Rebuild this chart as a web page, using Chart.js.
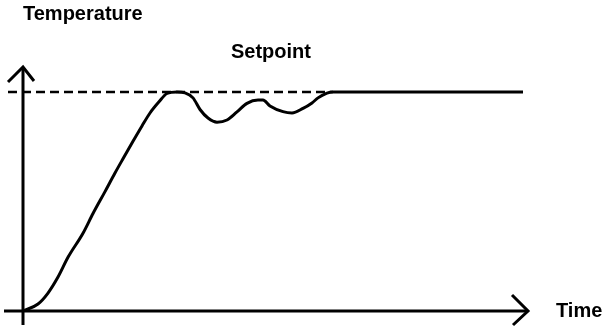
<!DOCTYPE html>
<html>
<head>
<meta charset="utf-8">
<script src="https://cdn.jsdelivr.net/npm/chart.js@4"></script>
<style>
    html, body { margin: 0; padding: 0; background: #fff; }
    canvas { display: block; }
</style>
</head>
<body>
<canvas id="myChart" width="605" height="330"></canvas>
<script>
//Step response: time and temperature samples
const time = [0, 3, 5, 7, 9, 12, 14, 16.4, 18.4, 20, 22, 23.8, 25.4, 27.2, 28.8, 30.8, 32.4, 34, 35.4, 37, 38.8, 40.8, 42.8, 44.8, 47, 48, 49.4, 52, 53.8, 56, 57.8, 59, 60.8, 62, 100];
const temperature = [0, 3.2, 8.2, 15.5, 24.5, 35.5, 44.5, 54.5, 63, 69.5, 77.5, 84.5, 90.4, 95.5, 99.3, 100, 99.6, 97.3, 92, 88.1, 86.2, 87.2, 90.9, 94.8, 96.3, 96.3, 93.6, 91, 90.4, 92.5, 95, 97.3, 99.5, 100, 100];

//Setpoint level and where the dashed line runs
const setpoint = 100;
const setpointTime = [-3, 62];

const labels = ['Temperature', 'Setpoint', 'Time'];

//Axes with arrow heads, crossing at the origin
const arrowAxes = {
    id: 'arrowAxes',
    beforeDatasetsDraw(chart) {
        const ctx = chart.ctx;
        const x = chart.scales.x;
        const y = chart.scales.y;
        const x0 = x.getPixelForValue(0);
        const y0 = y.getPixelForValue(0);
        ctx.save();
        ctx.strokeStyle = '#000';
        ctx.lineWidth = 3;
        ctx.lineCap = 'butt';
        ctx.beginPath();
        ctx.moveTo(x.left, y0);
        ctx.lineTo(x.right, y0);
        ctx.moveTo(x0, y.bottom);
        ctx.lineTo(x0, y.top);
        ctx.stroke();
        //arrow heads
        ctx.beginPath();
        ctx.moveTo(x0 - 15, y.top + 15);
        ctx.lineTo(x0, y.top);
        ctx.lineTo(x0 + 11, y.top + 14);
        ctx.moveTo(x.right - 16, y0 - 16);
        ctx.lineTo(x.right, y0);
        ctx.lineTo(x.right - 15, y0 + 14);
        ctx.stroke();
        ctx.restore();
    },
    afterDraw(chart) {
        const ctx = chart.ctx;
        const x = chart.scales.x;
        const y = chart.scales.y;
        ctx.save();
        ctx.fillStyle = '#000';
        ctx.font = 'bold 20px "Liberation Sans", Arial, sans-serif';
        ctx.textBaseline = 'alphabetic';
        ctx.textAlign = 'left';
        ctx.fillText(labels[0], x.getPixelForValue(0), 20);
        ctx.fillText(labels[1], 231, y.getPixelForValue(setpoint) - 34);
        ctx.fillText(labels[2], x.right + 28, y.getPixelForValue(0) + 6);
        ctx.restore();
    }
};

new Chart(document.getElementById('myChart'), {
    type: 'line',
    data: {
        datasets: [{
            label: 'Temperatur',
            data: time.map((t, i) => ({x: t, y: temperature[i]})),
            borderColor: '#000',
            borderWidth: 3,
            cubicInterpolationMode: 'monotone',
            pointRadius: 0,
            fill: false,
            order: 0
        }, {
            label: 'Setpoint',
            data: setpointTime.map(t => ({x: t, y: setpoint})),
            borderColor: '#000',
            borderWidth: 2.5,
            borderDash: [9, 5],
            pointRadius: 0,
            fill: false,
            order: 1
        }]
    },
    options: {
        responsive: false,
        animation: false,
        devicePixelRatio: 1,
        layout: {
            padding: {left: 4, right: 77, top: 67, bottom: 5}
        },
        scales: {
            x: {type: 'linear', min: -3.8, max: 101, display: false},
            y: {type: 'linear', min: -6.4, max: 111.4, display: false}
        },
        plugins: {
            legend: {display: false},
            tooltip: {enabled: false}
        }
    },
    plugins: [arrowAxes]
});
</script>
</body>
</html>
